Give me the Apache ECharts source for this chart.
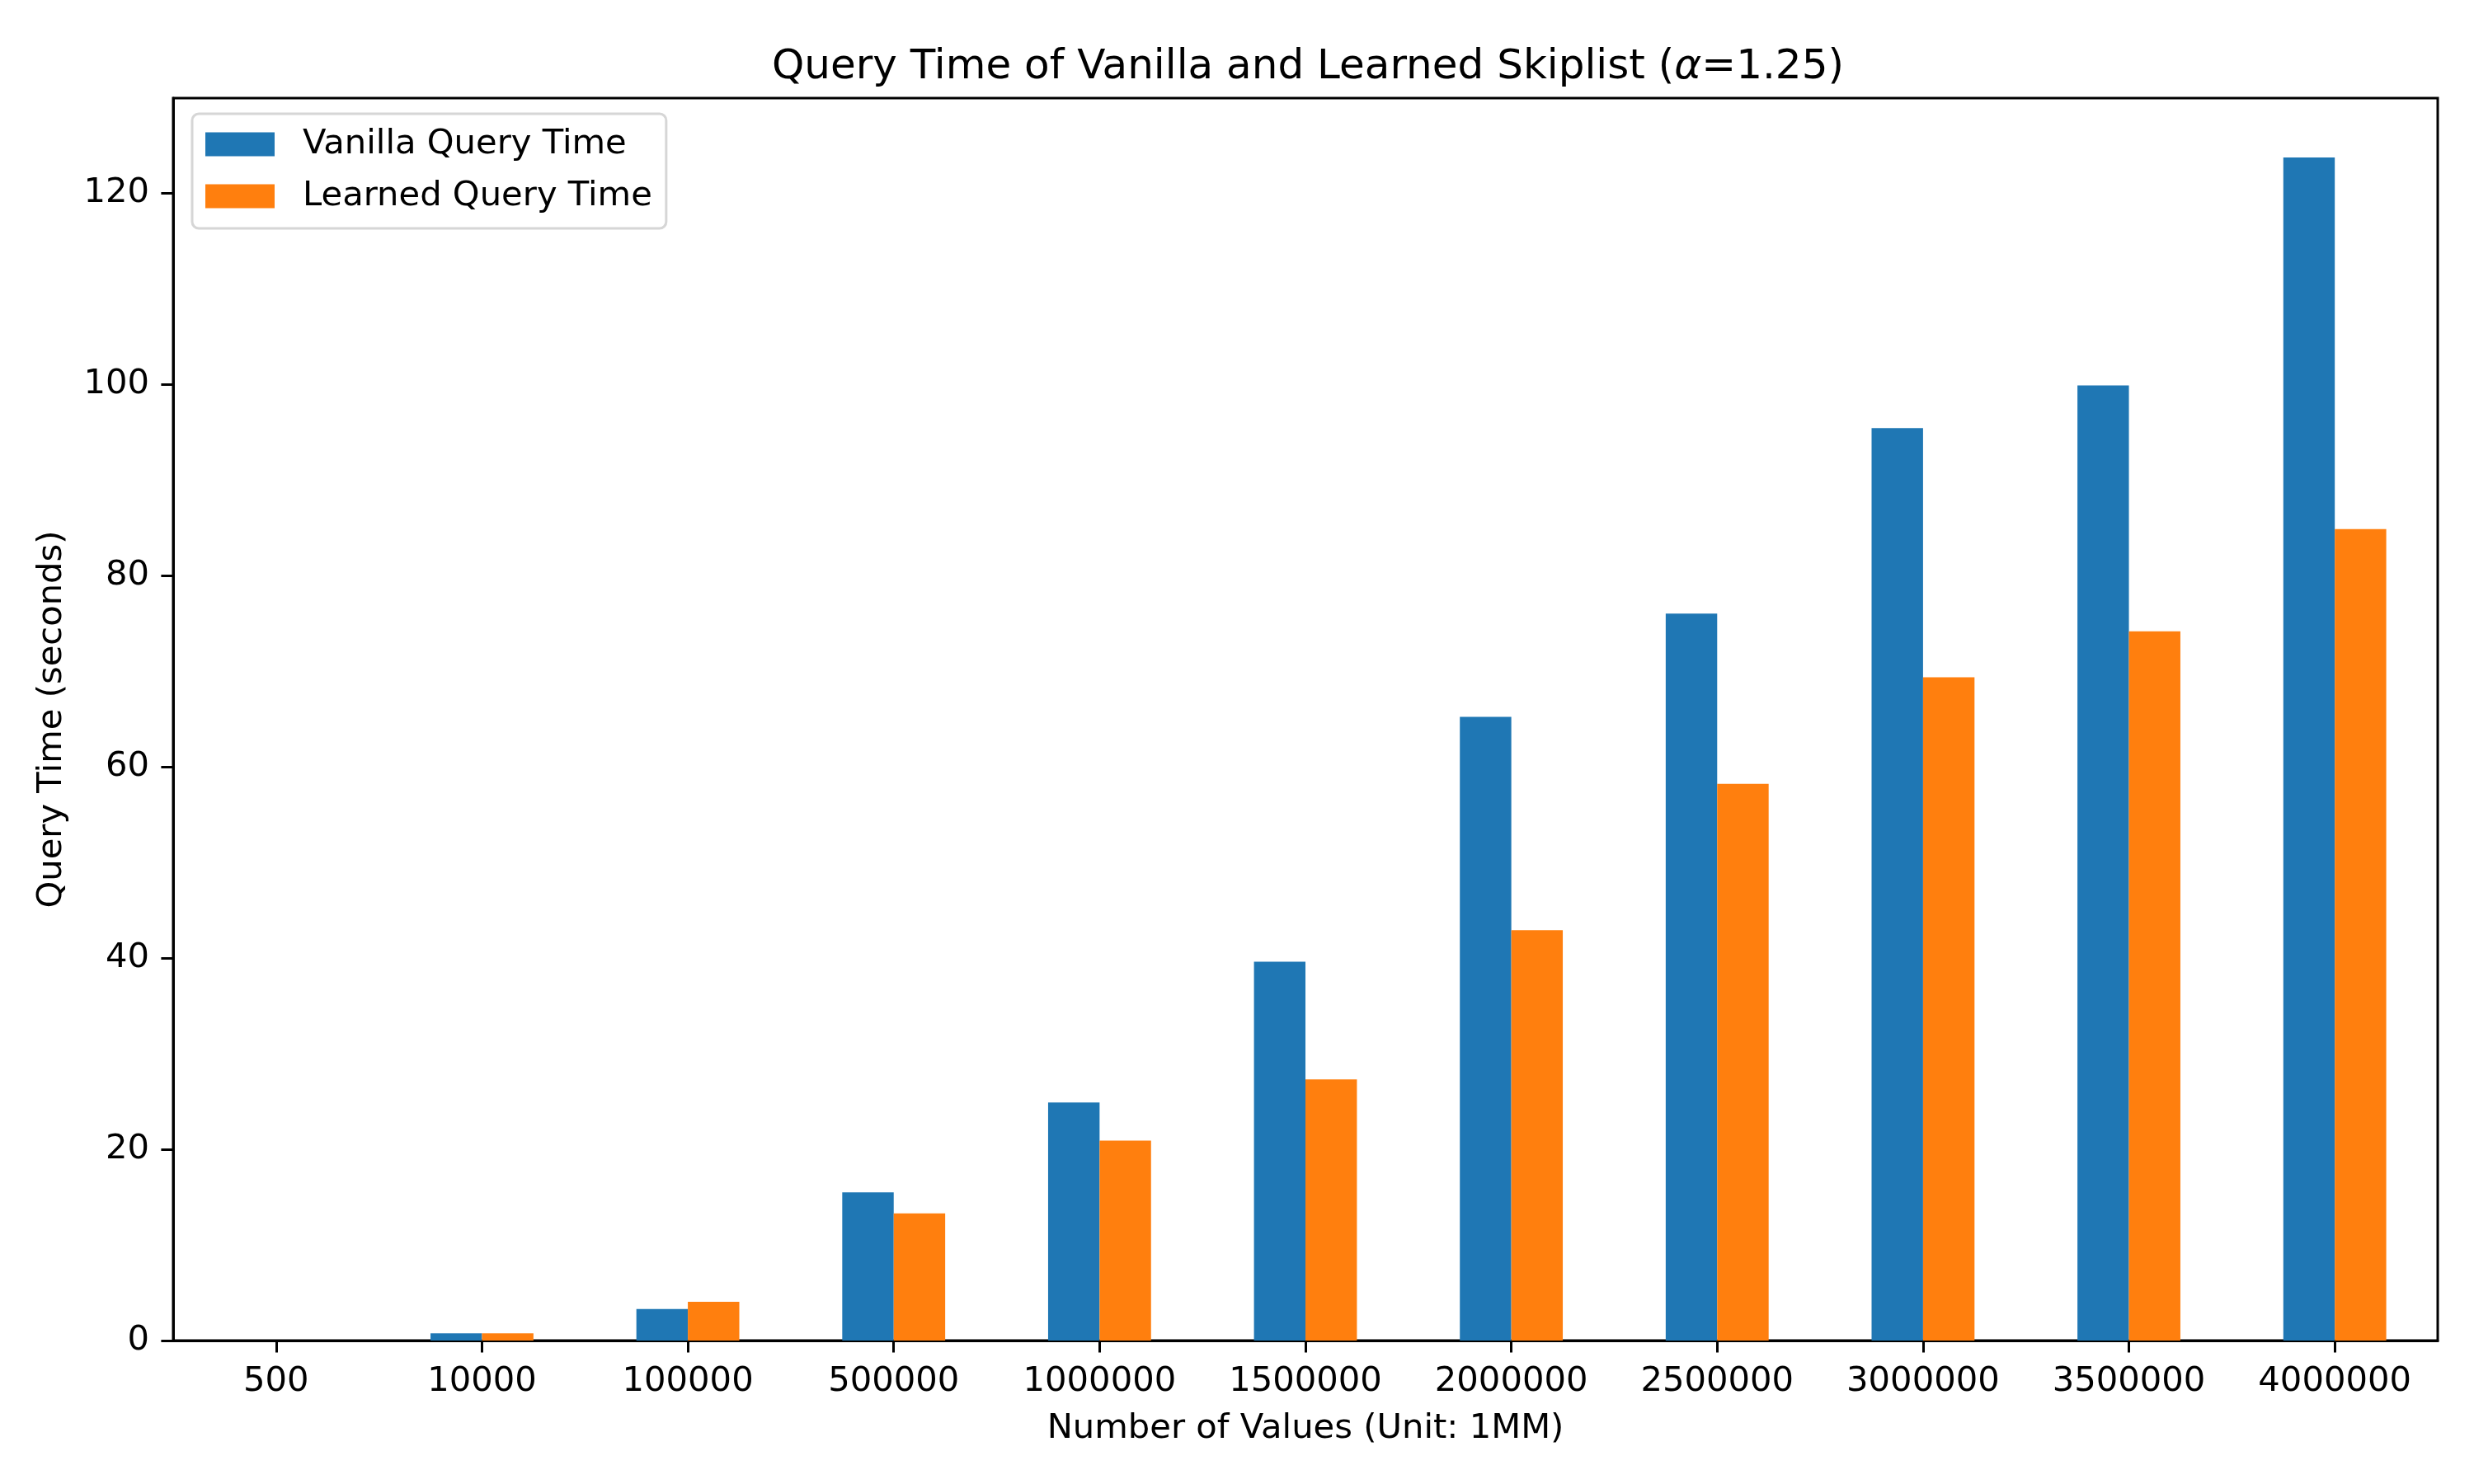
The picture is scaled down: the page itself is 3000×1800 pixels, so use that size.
<!DOCTYPE html>
<html>
<head>
<meta charset="utf-8">
<script src="https://cdn.jsdelivr.net/npm/echarts@6/dist/echarts.min.js"></script>
<style>
html,body{margin:0;padding:0;background:#fff;}
#chart{width:3000px;height:1800px;}
</style>
</head>
<body>
<div id="chart"></div>
<script>
const categories = ['500','10000','100000','500000','1000000','1500000','2000000','2500000','3000000','3500000','4000000'];
const vanillaQueryTime = [0.01, 0.75, 3.3, 15.5, 24.9, 39.6, 65.2, 76.0, 95.4, 99.85, 123.7];
const learnedQueryTime = [0.01, 0.75, 4.05, 13.3, 20.9, 27.3, 42.9, 58.2, 69.35, 74.15, 84.85];
const yTicks = [0, 20, 40, 60, 80, 100, 120];
const yMax = 129.9;

const FONT = 'DejaVu Sans';
const chart = echarts.init(document.getElementById('chart'), null, {renderer: 'canvas'});
chart.setOption({
  animation: false,
  backgroundColor: '#ffffff',
  textStyle: {fontFamily: FONT, color: '#000'},
  title: {
    text: '{n|Query Time of Vanilla and Learned Skiplist (}{i|α}{n|=1.25)}',
    left: 1581,
    textAlign: 'center',
    top: 52,
    textStyle: {
      rich: {
        n: {fontFamily: FONT, fontSize: 50, color: '#000', fontWeight: 'normal'},
        i: {fontFamily: FONT, fontSize: 50, color: '#000', fontStyle: 'italic', fontWeight: 'normal'}
      }
    }
  },
  legend: {
    left: 233,
    top: 138,
    orient: 'vertical',
    itemWidth: 84,
    itemHeight: 29,
    itemGap: 13,
    padding: [12, 17, 14, 16],
    backgroundColor: '#ffffff',
    borderColor: '#d6d6d6',
    borderWidth: 3,
    borderRadius: 8,
    icon: 'rect',
    textStyle: {fontFamily: FONT, fontSize: 41.7, color: '#000', lineHeight: 50, padding: [0, 0, 0, 29]},
    data: ['Vanilla Query Time', 'Learned Query Time']
  },
  grid: {
    left: 210, right: 44, top: 119, bottom: 174,
    show: true, borderColor: '#000', borderWidth: 3, backgroundColor: 'transparent'
  },
  xAxis: {
    type: 'category',
    data: categories,
    name: 'Number of Values (Unit: 1MM)',
    nameLocation: 'middle',
    nameGap: 86,
    nameTextStyle: {fontFamily: FONT, fontSize: 41.7, color: '#000'},
    axisLine: {show: true, lineStyle: {color: '#000', width: 3}},
    axisTick: {show: true, alignWithLabel: true, length: 14.6, lineStyle: {color: '#000', width: 3}},
    axisLabel: {fontFamily: FONT, fontSize: 41.7, color: '#000', margin: 29, interval: 0},
    splitLine: {show: false}
  },
  yAxis: {
    type: 'value',
    min: 0,
    max: yMax,
    name: 'Query Time (seconds)',
    nameLocation: 'middle',
    nameGap: 126,
    nameRotate: 90,
    nameTextStyle: {fontFamily: FONT, fontSize: 41.7, color: '#000'},
    axisLine: {show: true, lineStyle: {color: '#000', width: 3}},
    axisTick: {show: true, length: 14.6, lineStyle: {color: '#000', width: 3}, customValues: yTicks},
    axisLabel: {fontFamily: FONT, fontSize: 41.7, color: '#000', margin: 29, customValues: yTicks},
    splitLine: {show: false}
  },
  series: [
    {
      name: 'Vanilla Query Time',
      type: 'bar',
      data: vanillaQueryTime,
      barWidth: '25%',
      barGap: '0%',
      itemStyle: {color: '#1f77b4'}
    },
    {
      name: 'Learned Query Time',
      type: 'bar',
      data: learnedQueryTime,
      barWidth: '25%',
      barGap: '0%',
      itemStyle: {color: '#ff7f0e'}
    }
  ]
});
</script>
</body>
</html>
